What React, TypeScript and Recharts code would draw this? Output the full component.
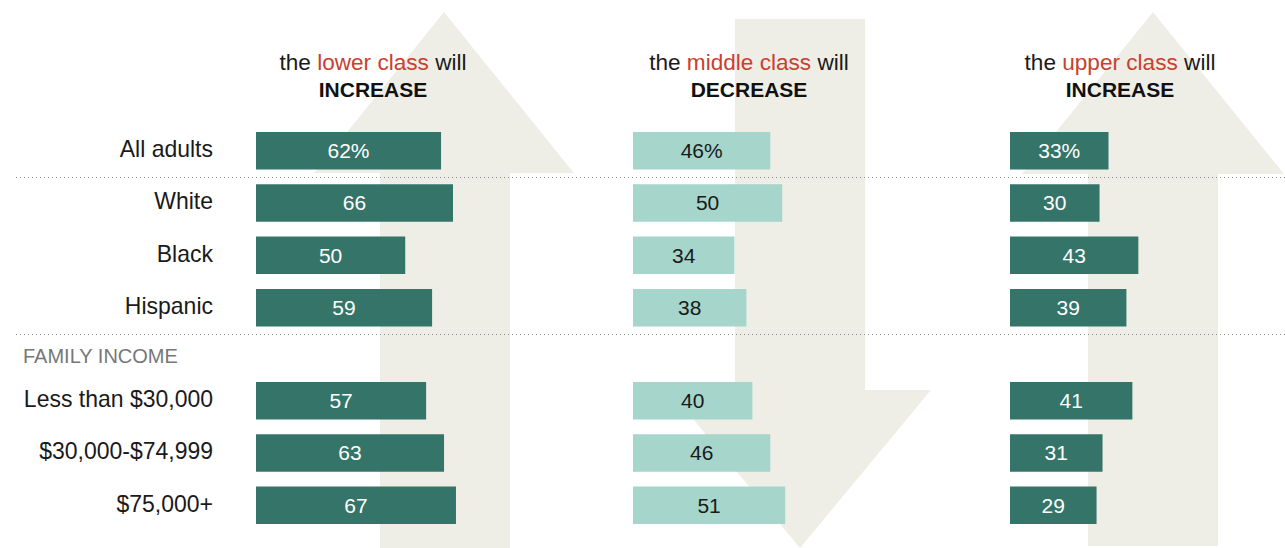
import React from "react";
import { BarChart, Bar, XAxis, YAxis, LabelList } from "recharts";

const groupLabels = ["All adults", "White", "Black", "Hispanic"];
const incomeLabels = ["Less than $30,000", "$30,000-$74,999", "$75,000+"];

// share saying each class will grow/shrink, same row order as labels above
const lowerIncrease = [62, 66, 50, 59, 57, 63, 67];
const middleDecrease = [46, 50, 34, 38, 40, 46, 51];
const upperIncrease = [33, 30, 43, 39, 41, 31, 29];

const DARK = "#357468";
const LIGHT = "#a5d5cb";
const BEIGE = "#efeee6";
const RED = "#c9402e";
const FONT = "'Liberation Sans', Arial, sans-serif";

const PX_PER_PT = 2.985;
const MAX = 90;
const PLOT_W = MAX * PX_PER_PT;
const ROW = 52.3;

function buildRows(labels: string[], values: number[], offset: number) {
  return labels.map((label, i) => {
    const v = values[i + offset];
    return { label, value: v, text: i + offset === 0 ? `${v}%` : String(v) };
  });
}

function RowTick(props: any) {
  const { x, y, payload } = props;
  return (
    <text x={x} y={y - 2} dy="0.35em" textAnchor="end" fontSize={23} fill="#1a1a1a">
      {payload.value}
    </text>
  );
}

type PanelProps = {
  labels: string[];
  values: number[];
  offset: number;
  left: number;
  top: number;
  color: string;
  textColor: string;
  showLabels?: boolean;
};

function Panel({ labels, values, offset, left, top, color, textColor, showLabels }: PanelProps) {
  const data = buildRows(labels, values, offset);
  const yw = showLabels ? 256 : 0;
  return (
    <div style={{ position: "absolute", left, top }}>
      <BarChart
        layout="vertical"
        width={yw + PLOT_W}
        height={labels.length * ROW}
        data={data}
        margin={{ top: 0, right: 0, bottom: 0, left: 0 }}
      >
        <XAxis type="number" domain={[0, MAX]} hide />
        <YAxis
          type="category"
          dataKey="label"
          width={yw}
          hide={!showLabels}
          axisLine={false}
          tickLine={false}
          tickSize={0}
          tickMargin={43}
          interval={0}
          tick={<RowTick />}
        />
        <Bar dataKey="value" fill={color} barSize={37.5} isAnimationActive={false}>
          <LabelList dataKey="text" position="center" fill={textColor} fontSize={21} />
        </Bar>
      </BarChart>
    </div>
  );
}

function Header({ x, who, verb }: { x: number; who: string; verb: string }) {
  return (
    <g>
      <text x={x} y={70} textAnchor="middle" fontSize={22.6} fill="#1a1a1a">
        <tspan>the </tspan>
        <tspan fill={RED}>{who}</tspan>
        <tspan> will</tspan>
      </text>
      <text x={x} y={97} textAnchor="middle" fontSize={21} fontWeight="bold" fill="#111">
        {verb}
      </text>
    </g>
  );
}

export default function App() {
  const TOP_A = 151.5 - ROW / 2;
  const TOP_B = 401 - ROW / 2;
  const panels = [
    { values: lowerIncrease, left: 0, color: DARK, textColor: "#ffffff", showLabels: true },
    { values: middleDecrease, left: 632.5, color: LIGHT, textColor: "#1a1a1a", showLabels: false },
    { values: upperIncrease, left: 1010, color: DARK, textColor: "#ffffff", showLabels: false },
  ];

  return (
    <div style={{ position: "relative", width: 1285, height: 548, overflow: "hidden", fontFamily: FONT, background: "#fff" }}>
      <style>{`body{margin:0}`}</style>
      <svg width={1285} height={548} style={{ position: "absolute", left: 0, top: 0 }}>
        {/* background arrows */}
        <polygon points="444,12 574,173 510,173 510,548 380,548 380,173 314,173" fill={BEIGE} />
        <polygon points="735,19 865,19 865,390 931,390 800,548 669,390 735,390" fill={BEIGE} />
        <polygon points="1153,12 1284,174 1218,174 1218,546 1088,546 1088,174 1022,174" fill={BEIGE} />
        <line x1={16} x2={1285} y1={177.5} y2={177.5} stroke="#8a8a8a" strokeWidth={1} strokeDasharray="1 3" />
        <line x1={16} x2={1285} y1={334.5} y2={334.5} stroke="#8a8a8a" strokeWidth={1} strokeDasharray="1 3" />
        <Header x={373} who="lower class" verb="INCREASE" />
        <Header x={749} who="middle class" verb="DECREASE" />
        <Header x={1120} who="upper class" verb="INCREASE" />
        <text x={23} y={363} fontSize={20} fill="#777">FAMILY INCOME</text>
      </svg>
      {panels.map((p, i) => (
        <React.Fragment key={i}>
          <Panel labels={groupLabels} offset={0} top={TOP_A} {...p} />
          <Panel labels={incomeLabels} offset={groupLabels.length} top={TOP_B} {...p} />
        </React.Fragment>
      ))}
    </div>
  );
}
